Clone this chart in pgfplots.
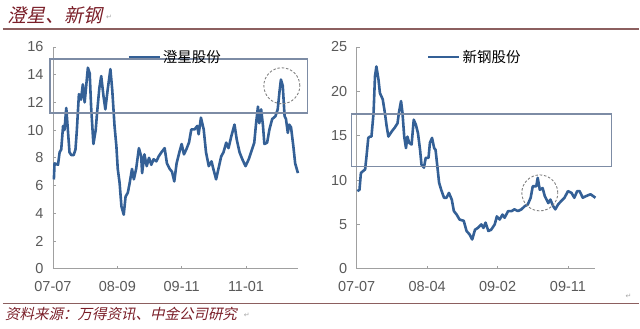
\documentclass[border=0pt]{standalone}
\usepackage{pgfplots}
\pgfplotsset{compat=1.18}
\usepackage{fontspec}
\setmainfont{Liberation Sans}
\newfontfamily\cjk{Noto Sans CJK SC}
\newfontfamily\cjkit{Noto Sans CJK SC}[FakeSlant=0.22]
\newfontfamily\dejavu{DejaVu Sans}
\definecolor{ser}{RGB}{52,96,150}
\definecolor{boxc}{RGB}{125,140,165}
\definecolor{tickc}{RGB}{89,89,89}
\definecolor{axc}{RGB}{160,160,160}
\definecolor{redt}{RGB}{122,30,40}
\definecolor{rule}{RGB}{140,95,95}
\pgfplotsset{
  myax/.style={
    scale only axis, clip=false,
    axis lines=left, axis line style={draw=axc, line width=0.8bp, -},
    tick style={draw=axc, line width=0.8bp}, tick align=inside,
    major tick length=3bp,
    ymin=0, height=222bp,
    ticklabel style={font=\fontsize{14.5bp}{16bp}\selectfont, text=tickc},
    xticklabel style={yshift=-9bp},
    yticklabel style={xshift=-6bp},
    /pgf/number format/assume math mode=true,
    legend style={draw=none, fill=none, inner sep=0pt, anchor=west,
      font=\cjk\fontsize{14.5bp}{16bp}\selectfont},
    legend image code/.code={\draw[#1, line width=2.8bp] (0bp,0bp) -- (31bp,0bp);},
  }
}
\begin{document}
\begin{tikzpicture}[x=1bp,y=1bp]
\path (0,0) rectangle (640,329);
% title
\node[anchor=west, inner sep=0pt, text=redt] at (7,314) {\cjkit\fontsize{19bp}{21bp}\selectfont 澄星、新钢};
\node[anchor=west, inner sep=0pt, text=gray!70] at (106,312) {\dejavu\fontsize{7bp}{8bp}\selectfont ↵};
\draw[rule, line width=1.2bp] (3,300) -- (640,300);
\draw[rule, line width=1.2bp] (3,25) -- (640,25);
\node[anchor=west, inner sep=0pt, text=redt] at (5,15) {\cjkit\fontsize{14.5bp}{16bp}\selectfont 资料来源：万得资讯、中金公司研究};
\node[anchor=west, inner sep=0pt, text=gray!70] at (244,13) {\dejavu\fontsize{7bp}{8bp}\selectfont ↵};
\node[anchor=west, inner sep=0pt, text=gray!70] at (626,32) {\dejavu\fontsize{7bp}{8bp}\selectfont ↵};

\begin{axis}[myax, at={(53bp,60bp)}, anchor=south west,
  width=245.2bp, xmin=0, xmax=53.3, ymax=16,
  xtick={0,14,28,42}, xticklabels={07-07,08-09,09-11,11-01},
  ytick={0,2,4,6,8,10,12,14,16},
  legend style={at={(0.302,0.955)}}]
\addplot[ser, line width=2.6bp, line join=round] coordinates {
(0.2,6.44)(0.35,7.6)(1.1,7.5)(1.45,8.4)(1.8,8.6)(2.2,10.3)(2.5,10.0)(2.9,11.6)(3.25,10.0)
(3.6,8.4)(4.0,8.2)(4.5,8.2)(4.9,8.6)(5.2,10.0)(5.65,12.6)(6.1,12.2)(6.5,13.3)(6.9,12.0)
(7.6,14.5)(8.0,14.1)(8.3,11.7)(8.8,9.0)(9.3,10.0)(9.6,11.25)(10.1,13.05)(10.5,13.9)
(11.0,12.45)(11.4,11.5)(11.9,12.9)(12.5,14.4)(12.9,12.9)(13.4,10.3)(13.8,8.85)(14.1,7.2)
(14.5,6.2)(14.9,4.5)(15.4,3.9)(15.8,5.2)(16.3,5.5)(16.7,6.2)(17.2,7.2)(17.6,6.45)(18.1,7.2)
(18.7,8.7)(19.2,8.1)(19.4,6.9)(19.9,8.25)(20.4,7.4)(20.9,8.0)(21.4,7.5)(21.9,7.9)(22.5,7.75)
(23.0,8.1)(23.6,8.4)(24.3,8.7)(24.8,7.6)(25.4,7.2)(25.9,7.0)(26.4,6.3)(26.9,7.6)(27.5,8.4)
(28.0,9.0)(28.5,8.25)(29.0,8.6)(29.6,9.1)(30.1,10.05)(30.8,10.05)(31.4,10.3)(31.7,9.7)
(32.2,10.9)(32.8,10.05)(33.3,8.4)(33.9,7.4)(34.5,7.75)(34.9,7.2)(35.5,6.45)(36.0,7.2)
(36.6,8.1)(37.1,8.4)(37.7,9.1)(38.2,8.7)(38.8,9.55)(39.5,10.4)(40.0,9.3)(40.6,8.4)(41.2,7.9)
(41.9,7.4)(42.6,7.9)(43.3,8.6)(43.8,9.1)(44.2,10.5)(44.6,11.7)(44.9,10.5)(45.3,11.5)(45.7,10.3)
(46.0,9.0)(46.6,9.1)(47.1,10.05)(47.7,10.8)(48.4,11.0)(48.9,11.5)(49.3,12.8)(49.6,13.65)
(50.0,13.2)(50.4,11.0)(50.7,10.8)(51.1,9.8)(51.4,10.4)(51.8,10.2)(52.3,8.85)(52.7,7.6)(53.3,6.9)
};
\addlegendentry{澄星股份}
\draw[boxc, line width=1.3bp] (axis cs:-0.65,11.24) rectangle (axis cs:55.4,15.14);
\draw[gray, line width=0.9bp, dashed, dash pattern=on 2.5bp off 1.8bp] (axis cs:49.8,13.2) circle [radius=18bp];
\end{axis}

\begin{axis}[myax, at={(357bp,60bp)}, anchor=south west,
  width=239bp, xmin=0, xmax=3.39, ymax=25,
  xtick={0,1,2,3}, xticklabels={07-07,08-04,09-02,09-11},
  ytick={0,5,10,15,20,25},
  legend style={at={(0.293,0.955)}}]
\addplot[ser, line width=2.6bp, line join=round] coordinates {
(0.01,8.75)(0.04,8.9)(0.06,10.8)(0.09,11.0)(0.12,11.2)(0.14,12.7)(0.165,14.75)(0.19,14.9)
(0.21,14.9)(0.24,17.6)(0.26,21.7)(0.28,22.8)(0.31,21.3)(0.33,19.8)(0.37,19.1)(0.40,17.6)
(0.425,16.1)(0.45,14.9)(0.50,15.5)(0.54,15.9)(0.58,16.4)(0.60,17.6)(0.63,18.9)(0.65,17.6)
(0.675,14.9)(0.70,13.6)(0.72,14.9)(0.745,14.2)(0.78,14.0)(0.81,16.8)(0.84,16.25)(0.87,15.3)
(0.90,13.4)(0.92,11.75)(0.955,11.4)(0.98,12.5)(1.02,12.5)(1.04,14.2)(1.07,14.75)(1.10,13.6)
(1.12,13.4)(1.15,11.2)(1.17,9.7)(1.20,8.9)(1.24,8.0)(1.275,8.0)(1.31,8.55)(1.35,7.8)(1.38,6.5)
(1.42,6.1)(1.46,5.55)(1.52,5.4)(1.56,4.25)(1.60,3.9)(1.64,3.3)(1.68,4.4)(1.72,4.6)(1.77,5.0)
(1.80,4.6)(1.83,5.2)(1.87,4.25)(1.91,4.4)(1.96,5.0)(1.99,5.9)(2.03,5.55)(2.07,6.1)(2.10,5.75)
(2.15,6.5)(2.20,6.5)(2.24,6.7)(2.29,6.5)(2.34,6.7)(2.385,7.05)(2.43,7.25)(2.47,8.0)(2.50,9.3)
(2.55,9.3)(2.57,10.25)(2.60,8.9)(2.64,9.1)(2.67,8.2)(2.72,7.4)(2.75,7.8)(2.79,7.05)(2.82,6.7)
(2.86,7.25)(2.90,7.6)(2.95,8.0)(3.00,8.75)(3.05,8.55)(3.09,8.0)(3.13,8.75)(3.165,8.75)
(3.21,8.0)(3.26,8.2)(3.32,8.4)(3.39,8.0)
};
\addlegendentry{新钢股份}
\draw[boxc, line width=1.3bp] (axis cs:-0.07,11.49) rectangle (axis cs:3.617,17.45);
\draw[gray, line width=0.9bp, dashed, dash pattern=on 2.5bp off 1.8bp] (axis cs:2.60,8.55) circle [radius=18bp];
\end{axis}
\end{tikzpicture}
\end{document}
